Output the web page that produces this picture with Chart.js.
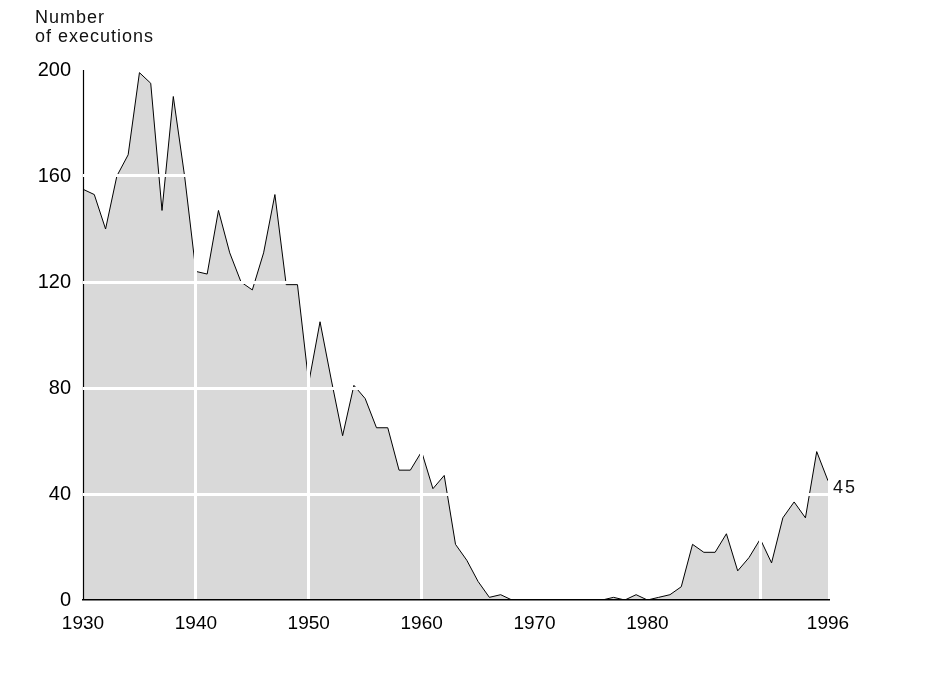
<!DOCTYPE html>
<html>
<head>
<meta charset="utf-8">
<script src="https://cdn.jsdelivr.net/npm/chart.js@4.4.1/dist/chart.umd.min.js"></script>
<style>
html,body{margin:0;padding:0;background:#fff;}
#wrap{width:946px;height:700px;position:relative;}
</style>
</head>
<body>
<div id="wrap"><canvas id="c" width="946" height="700"></canvas></div>
<script>
const years = [];
for (let y = 1930; y <= 1996; y++) years.push(y);
const executions = [
  155,153,140,160,168,199,195,147,190,160,
  124,123,147,131,120,117,131,153,119,119,
  82,105,83,62,81,76,65,65,49,49,
  56,42,47,21,15,7,1,2,0,0,
  0,0,0,0,0,0,0,1,0,2,
  0,1,2,5,21,18,18,25,11,16,
  23,14,31,37,31,56,45
];
const xTicks = [1930,1940,1950,1960,1970,1980,1990,1996];
const xTickLabels = ['1930','1940','1950','1960','1970','1980','','1996'];
const yTicks = [0,40,80,120,160,200];
const titleLines = ['Number','of executions'];
const endLabel = '45';

const FONT = '"Liberation Sans", Arial, sans-serif';

const extras = {
  id: 'extras',
  afterDatasetsDraw(chart) {
    const ctx = chart.ctx, a = chart.chartArea;
    ctx.save();
    ctx.strokeStyle = '#000';
    ctx.lineWidth = 1.2;
    ctx.beginPath();
    ctx.moveTo(a.left + 0.5, a.top);
    ctx.lineTo(a.left + 0.5, a.bottom);
    ctx.stroke();
    ctx.restore();
  },
  afterDraw(chart) {
    const ctx = chart.ctx;
    const xs = chart.scales.x, ys = chart.scales.y;
    ctx.save();
    ctx.fillStyle = '#111';
    ctx.font = '18px ' + FONT;
    try { ctx.letterSpacing = '1px'; } catch(e) {}
    ctx.textBaseline = 'alphabetic';
    ctx.textAlign = 'left';
    ctx.fillText(titleLines[0], 35, 23);
    ctx.fillText(titleLines[1], 35, 42);
    try { ctx.letterSpacing = '2px'; } catch(e) {}
    ctx.textBaseline = 'middle';
    const lastIdx = years.length - 1;
    ctx.fillText(endLabel, xs.getPixelForValue(years[lastIdx]) + 5, ys.getPixelForValue(executions[lastIdx]) + 7);
    ctx.restore();
  }
};

new Chart(document.getElementById('c'), {
  type: 'line',
  data: {
    datasets: [{
      data: years.map((y, i) => ({x: y, y: executions[i]})),
      borderColor: '#000',
      borderWidth: 1,
      backgroundColor: '#d9d9d9',
      fill: 'origin',
      pointRadius: 0,
      tension: 0
    }]
  },
  options: {
    responsive: false,
    animation: false,
    layout: { padding: { left: 0, right: 118, top: 70, bottom: 0 } },
    plugins: { legend: { display: false }, tooltip: { enabled: false }, title: { display: false } },
    scales: {
      x: {
        type: 'linear',
        min: 1930, max: 1996,
        afterBuildTicks(scale) { scale.ticks = xTicks.map(v => ({value: v})); },
        afterFit(scale) { scale.height = 100; },
        ticks: {
          autoSkip: false,
          maxRotation: 0,
          padding: 12,
          color: '#000',
          font: { family: FONT, size: 19 },
          callback(v) { const i = xTicks.indexOf(v); return i >= 0 ? xTickLabels[i] : ''; }
        },
        grid: {
          z: 1,
          drawTicks: false,
          lineWidth: 3,
          color(ctx) { const v = ctx.tick && ctx.tick.value; return (v > 1930 && v < 1996) ? '#ffffff' : 'rgba(0,0,0,0)'; }
        },
        border: { display: true, color: '#000', width: 1.5, z: 2 }
      },
      y: {
        min: 0, max: 200,
        afterBuildTicks(scale) { scale.ticks = yTicks.map(v => ({value: v})); },
        afterFit(scale) { scale.width = 83; },
        ticks: {
          padding: 12,
          color: '#000',
          font: { family: FONT, size: 20 }
        },
        grid: {
          z: 1,
          drawTicks: false,
          lineWidth: 3,
          color(ctx) { const v = ctx.tick && ctx.tick.value; return (v > 0 && v < 200) ? '#ffffff' : 'rgba(0,0,0,0)'; }
        },
        border: { display: false }
      }
    }
  },
  plugins: [extras]
});
</script>
</body>
</html>
